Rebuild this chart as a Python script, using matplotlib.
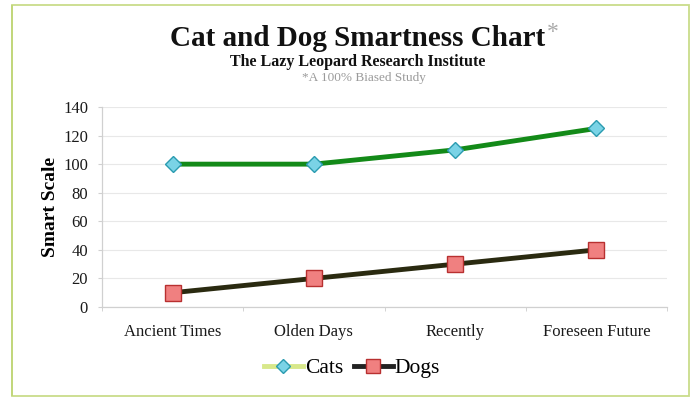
import matplotlib
matplotlib.use("Agg")
import matplotlib.pyplot as plt
from matplotlib.patches import Rectangle
from matplotlib.lines import Line2D

categories = ["Ancient Times", "Olden Days", "Recently", "Foreseen Future"]
cats = [100, 100, 110, 125]
dogs = [10, 20, 30, 40]
yticks = [0, 20, 40, 60, 80, 100, 120, 140]

plt.rcParams['font.family'] = ['Liberation Serif', 'DejaVu Serif']

fig = plt.figure(figsize=(7.0, 4.01), dpi=100)
W, H = 700, 401
# border
fig.patches.append(Rectangle((11.5 / W, 5 / H), (689 - 11.5) / W, (396 - 5) / H,
                             transform=fig.transFigure, fill=False,
                             edgecolor='#c9dc8a', linewidth=1.3))
fig.patches.append(Rectangle((10.5 / W, 5 / H), 2 / W, (396 - 5) / H,
                             transform=fig.transFigure, color='#c2d77c', linewidth=0))

ax = fig.add_axes([102 / W, (H - 307) / H, (667 - 102) / W, (307 - 107) / H])
x = list(range(len(categories)))

ax.plot(x, cats, color='#138a18', linewidth=3.5, marker='D', markersize=8.5,
        markerfacecolor='#7ad3e6', markeredgecolor='#2a9bb0', markeredgewidth=1, zorder=3)
ax.plot(x, dogs, color='#2a2a10', linewidth=3.5, marker='s', markersize=11,
        markerfacecolor='#f08080', markeredgecolor='#b83030', markeredgewidth=1, zorder=3)

ax.set_xlim(-0.5, 3.5)
ax.set_ylim(0, 140)
ax.set_yticks(yticks)
ax.set_yticklabels([str(v) for v in yticks], fontsize=12, color='#1a1a1a')
ax.set_xticks(x)
ax.set_xticklabels(categories, fontsize=12, color='#1a1a1a')
ax.tick_params(axis='x', length=0, pad=12)
ax.tick_params(axis='y', length=3, color='#d0d0d0', pad=7)
ax.set_xticks([-0.5, 0.5, 1.5, 2.5, 3.5], minor=True)
ax.tick_params(axis='x', which='minor', length=3, color='#cccccc', direction='out')
ax.grid(axis='y', color='#e8e8e8', linewidth=0.8)
ax.set_axisbelow(True)
for s in ['top', 'right']:
    ax.spines[s].set_visible(False)
for s in ['left', 'bottom']:
    ax.spines[s].set_color('#d0d0d0')
    ax.spines[s].set_linewidth(0.9)
ax.set_ylabel("Smart Scale", fontsize=14, fontweight='bold', labelpad=3)

title = fig.text(358 / W, 1 - 38 / H, "Cat and Dog Smartness Chart", ha='center', va='center',
                 fontsize=21, fontweight='bold', color='#111111')
fig.canvas.draw()
bb = title.get_window_extent(fig.canvas.get_renderer())
fig.text((bb.x1 + 1) / W, 1 - 33 / H, "*", ha='left', va='center', fontsize=17, color='#aaaaaa')
fig.text(358 / W, 1 - 62 / H, "The Lazy Leopard Research Institute", ha='center', va='center',
         fontsize=11.5, fontweight='bold', color='#111111')
fig.text(364 / W, 1 - 78 / H, "*A 100% Biased Study", ha='center', va='center',
         fontsize=9.5, color='#9a9a9a')

handles = [Line2D([], [], color='#d8e88a', linewidth=3.5, marker='D', markersize=7,
                  markerfacecolor='#7ad3e6', markeredgecolor='#2a9bb0'),
           Line2D([], [], color='#222222', linewidth=3.5, marker='s', markersize=10,
                  markerfacecolor='#f08080', markeredgecolor='#b83030')]
fig.legend(handles, ["Cats", "Dogs"], loc='center', bbox_to_anchor=(352 / W, 1 - 368 / H),
           ncol=2, frameon=False, fontsize=15.5, handlelength=1.8, handletextpad=0.1,
           columnspacing=0.5)

fig.savefig("out.png", dpi=100)
